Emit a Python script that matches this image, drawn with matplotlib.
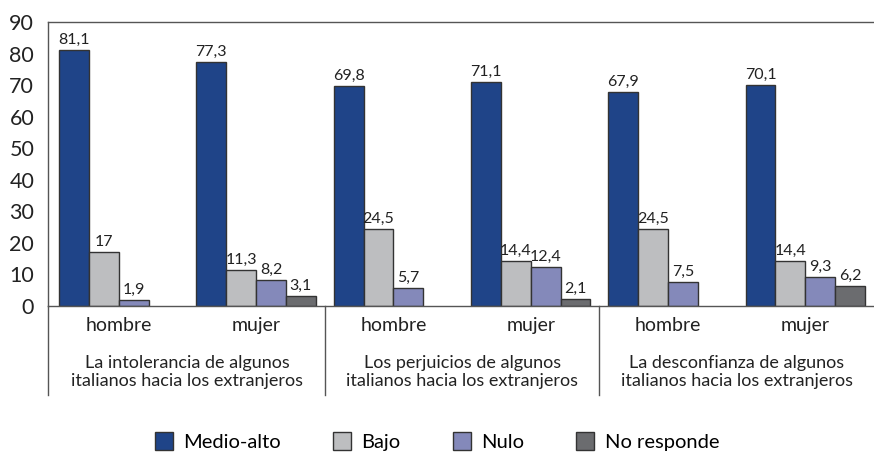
import numpy as np
import matplotlib.pyplot as plt
from matplotlib.transforms import blended_transform_factory

plt.rcParams['font.family'] = ['Lato', 'DejaVu Sans']

# datos
grupos = ["hombre", "mujer", "hombre", "mujer", "hombre", "mujer"]
categorias = ["La intolerancia de algunos\nitalianos hacia los extranjeros",
              "Los perjuicios de algunos\nitalianos hacia los extranjeros",
              "La desconfianza de algunos\nitalianos hacia los extranjeros"]
series = ["Medio-alto", "Bajo", "Nulo", "No responde"]
medio_alto = [81.1, 77.3, 69.8, 71.1, 67.9, 70.1]
bajo = [17, 11.3, 24.5, 14.4, 24.5, 14.4]
nulo = [1.9, 8.2, 5.7, 12.4, 7.5, 9.3]
no_responde = [None, 3.1, None, 2.1, None, 6.2]
colores = ["#1F4488", "#BDBEC0", "#8489BA", "#6B6C6F"]

fig = plt.figure(figsize=(8.74, 4.53), dpi=100)
ax = fig.add_axes([0.055, 0.3245, 0.945, 0.627])

x = np.arange(len(grupos))
w = 0.2174

def fmt(v):
    s = ("%g" % v)
    return s.replace(".", ",")

for i, (nombre, vals, c) in enumerate(zip(series, [medio_alto, bajo, nulo, no_responde], colores)):
    xs = [xi for xi, v in zip(x, vals) if v is not None]
    vs = [v for v in vals if v is not None]
    pos = np.array(xs) + (i - 1.5) * w
    bars = ax.bar(pos, vs, width=w, color=c, edgecolor="#333333", linewidth=1, label=nombre)
    for b, v in zip(bars, vs):
        ax.text(b.get_x() + b.get_width() / 2, v + 1, fmt(v), ha="center", va="bottom",
                fontsize=11.5, color="#222222")

ax.set_xlim(-0.515, 5.5)
ax.set_ylim(0, 90)
ax.set_yticks(range(0, 91, 10))
ax.tick_params(axis="y", length=0, pad=10, labelsize=15.5, colors="#222222")
ax.set_xticks([])
for s in ["left", "top", "bottom"]:
    ax.spines[s].set_color("#555555")
    ax.spines[s].set_linewidth(1)
ax.spines["right"].set_visible(False)

tr = blended_transform_factory(ax.transData, ax.transAxes)
for xi, g in zip(x, grupos):
    ax.text(xi, -0.07, g, transform=tr, ha="center", va="center", fontsize=14, color="#222222")
for k, cat in enumerate(categorias):
    ax.text(2 * k + 0.5, -0.232, cat, transform=tr, ha="center", va="center",
            fontsize=13, color="#222222", linespacing=1.15)
for xs in [-0.515, 1.5, 3.5]:
    ax.plot([xs, xs], [0, -0.313], transform=tr, color="#555555", lw=1, clip_on=False)

fig.legend(loc="lower center", ncol=4, frameon=False, fontsize=14.5,
           bbox_to_anchor=(0.5, -0.035), handlelength=0.9, handleheight=1.0,
           columnspacing=2.6, handletextpad=0.5)

fig.savefig("out.png", dpi=100)
